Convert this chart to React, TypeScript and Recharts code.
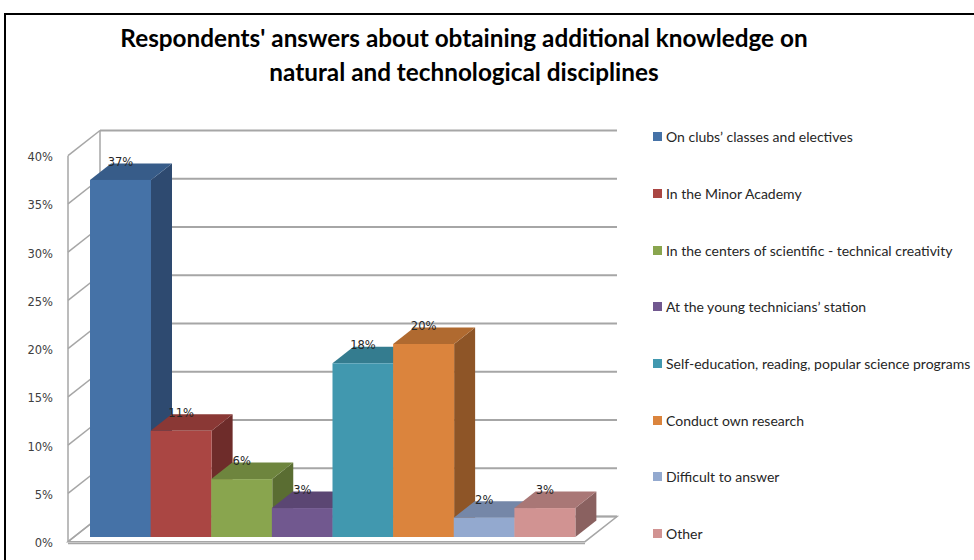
import React from 'react';
import { BarChart, Bar, XAxis, YAxis, CartesianGrid, Cell, LabelList, Legend } from 'recharts';

const categories = [
  'On clubs’ classes and electives',
  'In the Minor Academy',
  'In the centers of scientific - technical creativity',
  'At the young technicians’ station',
  'Self-education, reading, popular science programs',
  'Conduct own research',
  'Difficult to answer',
  'Other',
];
const shares = [37, 11, 6, 3, 18, 20, 2, 3];
const yTicks = [0, 5, 10, 15, 20, 25, 30, 35, 40];

const frontColors = ['#4572A7', '#AA4643', '#89A54E', '#71588F', '#4198AF', '#DB843D', '#93A9CF', '#D19392'];
const topColors = ['#375C89', '#8A3835', '#6E853E', '#5B4673', '#347C8F', '#B06A30', '#7587A8', '#A97776'];
const sideColors = ['#2E4A70', '#6E2C2A', '#5A6D32', '#4A395E', '#2B6676', '#8E5527', '#61708A', '#8A6160'];

const data = categories.map((name, i) => ({ name, value: shares[i] }));

const W = 974;
const H = 560;
const MARGIN = { top: 151, right: 399, bottom: 23, left: 0 };
const AXIS_W = 90;
const PLOT_TOP = MARGIN.top;
const PLOT_BOTTOM = H - MARGIN.bottom;

// 3d look
const BAR_DX = 21;
const BAR_DY = 16.5;
const FRONT_DX = -22; // wall front edge, relative to bar front plane
const FRONT_DY = 4.7;
const BACK_DX = 10; // back wall, relative to bar front plane
const BACK_DY = -20.5;
const GRID = '#a6a6a6';

function gridLine(props: any) {
  const { x1, x2, y1, index } = props;
  const fy = y1 + FRONT_DY;
  const by = y1 + BACK_DY;
  const isFloor = Math.abs(y1 - PLOT_BOTTOM) < 0.6;
  return (
    <g key={`grid-${index}`}>
      {isFloor && (
        <g>
          <polygon
            points={`${x1 + FRONT_DX},${fy} ${x2 + BACK_DX},${fy} ${x2 + BACK_DX + 32},${by} ${x1 + BACK_DX},${by}`}
            fill="#fff"
            stroke={GRID}
            strokeWidth={1.5}
          />
          <line x1={x1 + FRONT_DX} y1={fy + 1.8} x2={x2 + BACK_DX} y2={fy + 1.8} stroke={GRID} strokeWidth={1.5} />
          <line x1={x1 + FRONT_DX} y1={PLOT_TOP + FRONT_DY} x2={x1 + FRONT_DX} y2={fy} stroke={GRID} strokeWidth={1.5} />
          <line x1={x1 + BACK_DX} y1={PLOT_TOP + BACK_DY} x2={x1 + BACK_DX} y2={by} stroke={GRID} strokeWidth={1.5} />
        </g>
      )}
      <line x1={x1 + BACK_DX} y1={by} x2={x2 + BACK_DX + 32} y2={by} stroke={GRID} strokeWidth={2} />
      <line x1={x1 + FRONT_DX} y1={fy} x2={x1 + BACK_DX} y2={by} stroke={GRID} strokeWidth={1.5} />
    </g>
  );
}

function Box3D(props: any) {
  const { x, y, width, height, index, fill } = props;
  if (!height || height <= 0) return null;
  const top = `${x},${y} ${x + BAR_DX},${y - BAR_DY} ${x + width + BAR_DX},${y - BAR_DY} ${x + width},${y}`;
  const side = `${x + width},${y} ${x + width + BAR_DX},${y - BAR_DY} ${x + width + BAR_DX},${y + height - BAR_DY} ${x + width},${y + height}`;
  return (
    <g>
      <polygon points={side} fill={sideColors[index]} />
      <polygon points={top} fill={topColors[index]} />
      <rect x={x} y={y} width={width} height={height} fill={fill} />
    </g>
  );
}

function YTick(props: any) {
  const { x, y, payload } = props;
  return (
    <text x={x - 29} y={y + 10} textAnchor="end" fontSize={11.5} fontFamily="DejaVu Sans" fill="#404040">
      {payload.value}%
    </text>
  );
}

function TopLabel(props: any) {
  const { x, y, width, value } = props;
  return (
    <text
      x={Number(x) + Number(width) / 2}
      y={Number(y) - 14}
      textAnchor="middle"
      fontSize={11.5}
      fontFamily="DejaVu Sans"
      fill="#262626"
    >
      {value}%
    </text>
  );
}

function LegendList() {
  return (
    <div style={{ fontFamily: 'Lato', fontSize: 14, color: '#262626' }}>
      {categories.map((c, i) => (
        <div key={c} style={{ height: 56.7, display: 'flex', alignItems: 'center', whiteSpace: 'nowrap' }}>
          <span style={{ width: 9, height: 9, background: frontColors[i], marginRight: 4, display: 'inline-block' }} />
          {c}
        </div>
      ))}
    </div>
  );
}

export default function App() {
  return (
    <div style={{ position: 'fixed', left: 0, top: 0, width: W, height: H, overflow: 'hidden', background: '#fff' }}>
      <div
        style={{
          position: 'absolute',
          left: 4,
          top: 13,
          width: 1100,
          height: 700,
          border: '2.5px solid #000',
        }}
      />
      <div
        style={{
          position: 'absolute',
          left: 0,
          top: 21,
          width: 928,
          textAlign: 'center',
          fontFamily: 'Lato',
          fontWeight: 'bold',
          fontSize: 24.3,
          lineHeight: '34px',
          color: '#000',
        }}
      >
        Respondents' answers about obtaining additional knowledge on
        <br />
        natural and technological disciplines
      </div>
      <div style={{ position: 'absolute', left: 0, top: 0 }}>
        <BarChart width={W} height={H} data={data} margin={MARGIN} barCategoryGap={0} barGap={0}>
          <CartesianGrid vertical={false} horizontal={gridLine} />
          <XAxis dataKey="name" hide />
          <YAxis
            width={AXIS_W}
            domain={[0, 40]}
            ticks={yTicks}
            interval={0}
            axisLine={false}
            tickLine={false}
            tick={<YTick />}
          />
          <Legend
            layout="vertical"
            align="center"
            verticalAlign="middle"
            wrapperStyle={{ left: 653, top: 108.5, width: 320 }}
            content={() => <LegendList />}
          />
          <Bar dataKey="value" isAnimationActive={false} shape={<Box3D />}>
            {data.map((d, i) => (
              <Cell key={d.name} fill={frontColors[i]} />
            ))}
            <LabelList dataKey="value" content={<TopLabel />} />
          </Bar>
        </BarChart>
      </div>
    </div>
  );
}
